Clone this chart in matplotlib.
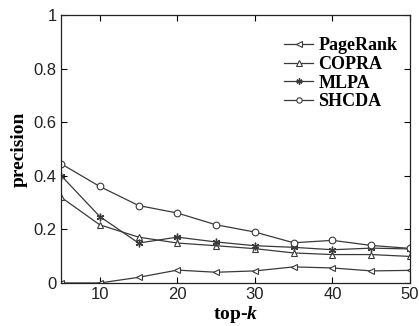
import numpy as np
import matplotlib.pyplot as plt

k = [5, 10, 15, 20, 25, 30, 35, 40, 45, 50]
pagerank = [0.0, 0.0, 0.021, 0.048, 0.040, 0.045, 0.060, 0.056, 0.045, 0.047]
copra = [0.320, 0.217, 0.171, 0.149, 0.139, 0.128, 0.112, 0.106, 0.106, 0.099]
mlpa = [0.401, 0.248, 0.149, 0.171, 0.153, 0.139, 0.133, 0.124, 0.130, 0.127]
shcda = [0.445, 0.360, 0.289, 0.261, 0.217, 0.190, 0.150, 0.159, 0.140, 0.129]

serif = ['Liberation Serif', 'DejaVu Serif']
sans = ['Liberation Sans', 'DejaVu Sans']

plt.rcParams['mathtext.fontset'] = 'custom'
plt.rcParams['mathtext.it'] = 'Liberation Serif:italic:bold'
plt.rcParams['mathtext.rm'] = 'Liberation Serif:bold'

fig = plt.figure(figsize=(4.19, 3.26), dpi=100)
ax = fig.add_axes([0.1456, 0.132, 0.833, 0.822])

col = '#3a3a3a'
ms = 4.8
ax.plot(k, pagerank, '-', marker='<', color=col, mfc='white', mec=col, ms=ms, lw=0.9, mew=0.8, label='PageRank')
ax.plot(k, copra, '-', marker='^', color=col, mfc='white', mec=col, ms=ms, lw=0.9, mew=0.8, label='COPRA')
ax.plot(k, mlpa, '-', marker=(6, 2, 0), color=col, mfc='white', mec=col, ms=5.5, lw=0.9, mew=1.0, label='MLPA')
ax.plot(k, shcda, '-', marker='o', color=col, mfc='white', mec=col, ms=ms, lw=0.9, mew=0.8, label='SHCDA')

ax.set_xlim(5, 50)
ax.set_ylim(0, 1)
ax.set_xticks([10, 20, 30, 40, 50])
ax.set_yticks([0, 0.2, 0.4, 0.6, 0.8, 1])
ax.set_yticklabels(['0', '0.2', '0.4', '0.6', '0.8', '1'])
ax.tick_params(direction='in', top=True, right=True, length=4, width=0.8,
               labelsize=12, pad=3, labelcolor='#222222')
for lab in ax.get_xticklabels() + ax.get_yticklabels():
    lab.set_family(sans)
for s in ax.spines.values():
    s.set_linewidth(0.9)
    s.set_color('#222222')

ax.set_xlabel('top-$\\mathit{k}$', family=serif, fontsize=14, fontweight='bold', labelpad=1)
ax.set_ylabel('precision', family=serif, fontsize=14, fontweight='bold', labelpad=4)

leg = ax.legend(loc='upper right', bbox_to_anchor=(1.0, 0.965), frameon=False,
                prop={'family': serif, 'size': 13, 'weight': 'bold'}, markerscale=0.8,
                handlelength=1.6, handletextpad=0.3, labelspacing=0.1, borderaxespad=0.3)

fig.savefig('out.png', dpi=100)
